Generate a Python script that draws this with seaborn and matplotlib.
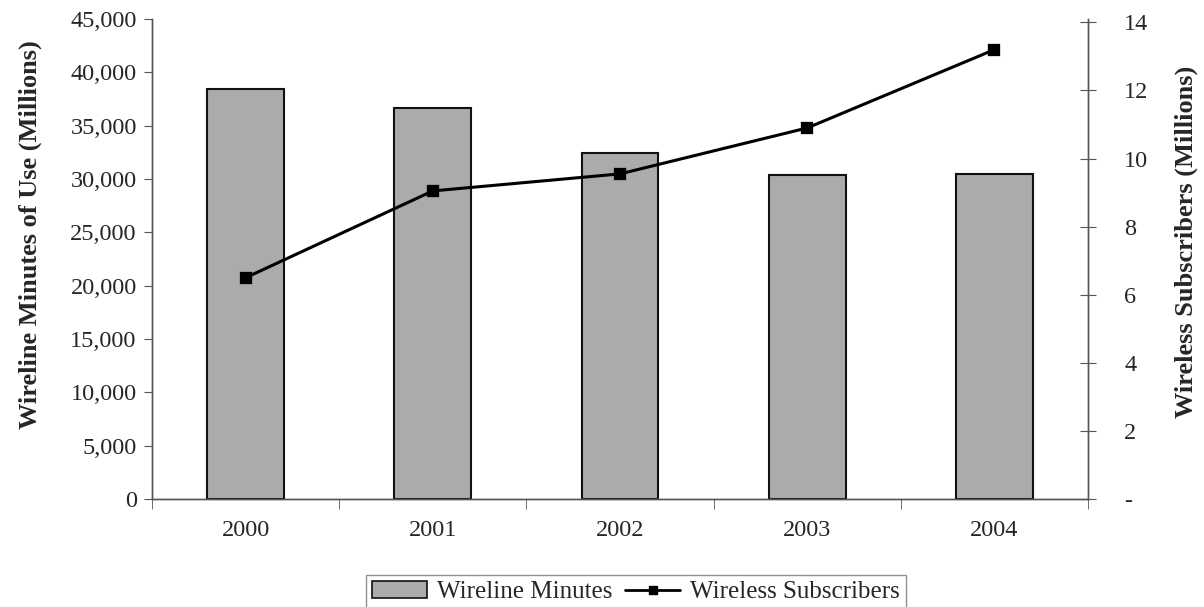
import matplotlib
matplotlib.use('Agg')
import matplotlib.pyplot as plt
import matplotlib.ticker as mticker
from matplotlib.patches import Patch
from matplotlib.lines import Line2D
import pandas as pd
import seaborn as sns

years = ['2000', '2001', '2002', '2003', '2004']
wireline_minutes = [38450, 36650, 32400, 30350, 30450]     # millions
wireless_subs = [6.5, 9.05, 9.55, 10.9, 13.2]              # millions

df = pd.DataFrame({'Year': years, 'Wireline': wireline_minutes, 'Wireless': wireless_subs})

sns.set_style('white')
plt.rcParams['font.family'] = ['Liberation Serif', 'DejaVu Serif']

fig = plt.figure(figsize=(12.04, 6.07), dpi=100)
ax = fig.add_axes([152 / 1204, 108 / 607, 936 / 1204, 480 / 607])

sns.barplot(df, x='Year', y='Wireline', ax=ax, width=0.41, color='#ababab',
            edgecolor='#111111', linewidth=1.5, saturation=1)
ax.set_ylim(0, 45000)
ax.set_xlim(-0.5, 4.5)
ax.yaxis.set_major_locator(mticker.MultipleLocator(5000))
ax.yaxis.set_major_formatter(mticker.FuncFormatter(lambda v, p: f'{v:,.0f}'))
ax.set_ylabel('Wireline Minutes of Use (Millions)', fontsize=19, fontweight='bold')
ax.yaxis.set_label_coords(-0.118, 0.55)
ax.set_xlabel('')

ax2 = ax.twinx()
sns.pointplot(df, x='Year', y='Wireless', ax=ax2, color='black', markers='s',
              markersize=7, linewidth=2.2, errorbar=None)
ax2.set_ylim(0, 14.1)
ax2.set_xlim(-0.5, 4.5)
ax2.yaxis.set_major_locator(mticker.FixedLocator([0, 2, 4, 6, 8, 10, 12, 14]))
ax2.yaxis.set_major_formatter(mticker.FuncFormatter(lambda v, p: '-' if v == 0 else f'{v:.0f}'))
ax2.set_ylabel('Wireless Subscribers (Millions)', fontsize=19, fontweight='bold')
ax2.yaxis.set_label_coords(1.092, 0.535)
ax2.set_xlabel('')

# spines
for a in (ax, ax2):
    a.spines['top'].set_visible(False)
    for s in ('left', 'right', 'bottom'):
        a.spines[s].set_color('#555555')
        a.spines[s].set_linewidth(1.0)

# x ticks: marks at category boundaries, labels at centres
ax.xaxis.set_minor_locator(mticker.FixedLocator([-0.5, 0.5, 1.5, 2.5, 3.5, 4.5]))
ax.tick_params(axis='x', which='major', length=0, labelsize=17.5, pad=15)
ax.tick_params(axis='x', which='minor', length=7, direction='out', color='#555555', bottom=True)
ax.tick_params(axis='y', length=6, direction='out', left=True, color='#555555', labelsize=17.5, pad=5)
ax2.tick_params(axis='y', length=12, direction='inout', right=True, color='#555555', labelsize=17.5, pad=20)

handles = [Patch(facecolor='#ababab', edgecolor='#111111', linewidth=1.2),
           Line2D([0], [0], color='black', marker='s', markersize=6, linewidth=2)]
leg = fig.legend(handles, ['Wireline Minutes', 'Wireless Subscribers'], ncol=2,
                 loc='upper center', bbox_to_anchor=(636 / 1204, 1 - 562 / 607),
                 fontsize=18, frameon=True, fancybox=False, handlelength=2.2,
                 columnspacing=0.5, handletextpad=0.4, borderpad=0.25)
leg.get_frame().set_edgecolor('#777777')
leg.get_frame().set_linewidth(1.0)

fig.savefig('out.png', dpi=100)
